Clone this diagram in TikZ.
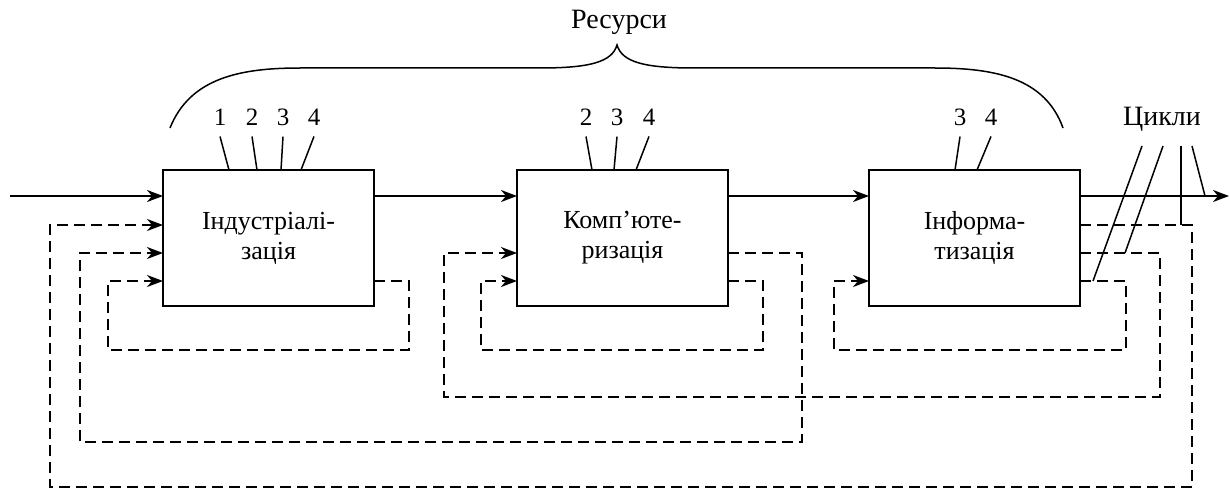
\documentclass[tikz,border=0pt]{standalone}
\usepackage{fontspec}
\setmainfont{Liberation Serif}
\usetikzlibrary{arrows.meta,calc}
\begin{document}
\begin{tikzpicture}[x=1pt,y=-1pt,
 box/.style={draw,line width=2pt,minimum width=211pt,minimum height=136pt,align=center,inner sep=0pt,outer sep=0pt,font=\fontsize{26}{30}\selectfont},
 flow/.style={line width=1.8pt,-{Stealth[length=16pt,width=12pt,inset=5pt]}},
 fb/.style={line width=1.8pt,dash pattern=on 11pt off 6pt},
 fbarr/.style={fb,-{Stealth[length=16pt,width=12pt,inset=5pt]}},
 res/.style={line width=1.5pt},
 num/.style={inner sep=0pt,font=\fontsize{25}{25}\selectfont},
 lbl/.style={inner sep=0pt,font=\fontsize{28}{28}\selectfont},
]
\useasboundingbox (0,0) rectangle (1230,492);

% boxes
\node[box] (b1) at (268.5,238) {Індустріалі-\\зація};
\node[box] (b2) at (622.5,238) {Комп'юте-\\ризація};
\node[box] (b3) at (974.5,238) {Інформа-\\тизація};

% row levels
\coordinate (ra) at (0,196);
\coordinate (rb) at (0,225);
\coordinate (rc) at (0,253);
\coordinate (rd) at (0,281);
\coordinate (start) at (10,196);
\coordinate (end) at (1229,196);

% main flow
\draw[flow] (start) -- (b1.west |- ra);
\draw[flow] (b1.east |- ra) -- (b2.west |- ra);
\draw[flow] (b2.east |- ra) -- (b3.west |- ra);
\draw[flow] (b3.east |- ra) -- (end);

% feedback loops
\draw[fbarr] (b1.east |- rd) -- (409,281) -- (409,350) -- (108,350) -- (108,281) -- (b1.west |- rd);
\draw[fbarr] (b2.east |- rd) -- (763,281) -- (763,350) -- (481,350) -- (481,281) -- (b2.west |- rd);
\draw[fbarr] (b3.east |- rd) -- (1126,281) -- (1126,350) -- (834,350) -- (834,281) -- (b3.west |- rd);
\draw[fbarr] (b2.east |- rc) -- (802,253) -- (802,442) -- (80,442) -- (80,253) -- (b1.west |- rc);
\draw[fbarr] (b3.east |- rc) -- (1160,253) -- (1160,397) -- (444,397) -- (444,253) -- (b2.west |- rc);
\draw[fbarr] (b3.east |- rb) -- (1192,225) -- (1192,487) -- (50,487) -- (50,225) -- (b1.west |- rb);

% resources, box 1
\node[num] (n11) at (220,117) {1};
\node[num] (n12) at (252,117) {2};
\node[num] (n13) at (283,117) {3};
\node[num] (n14) at (314,117) {4};
\draw[res] ([yshift=-11pt]n11.south) -- ($(b1.north west)+(66,0)$);
\draw[res] ([yshift=-11pt]n12.south) -- ($(b1.north west)+(94,0)$);
\draw[res] ([yshift=-11pt]n13.south) -- ($(b1.north west)+(118,0)$);
\draw[res] ([yshift=-11pt]n14.south) -- ($(b1.north west)+(138,0)$);
% box 2
\node[num] (n22) at (586,117) {2};
\node[num] (n23) at (617,117) {3};
\node[num] (n24) at (649,117) {4};
\draw[res] ([yshift=-11pt]n22.south) -- ($(b2.north west)+(75,0)$);
\draw[res] ([yshift=-11pt]n23.south) -- ($(b2.north west)+(97,0)$);
\draw[res] ([yshift=-11pt]n24.south) -- ($(b2.north west)+(119,0)$);
% box 3
\node[num] (n33) at (960,117) {3};
\node[num] (n34) at (991,117) {4};
\draw[res] ([yshift=-11pt]n33.south) -- ($(b3.north west)+(86,0)$);
\draw[res] ([yshift=-11pt]n34.south) -- ($(b3.north west)+(108,0)$);

% brace and label
\node[lbl] (res) at (619,22) {Ресурси};
\draw[res] (170,128) .. controls (190,78) and (240,68) .. (300,68) -- (540,68)
  .. controls (590,68) and (612,62) .. (617,45)
  .. controls (622,62) and (644,68) .. (694,68) -- (935,68)
  .. controls (995,68) and (1045,78) .. (1063,128);

% cycles
\node[lbl] (cyc) at (1162,119) {Цикли};
\coordinate (c1) at (1093,281);
\coordinate (c2) at (1125,253);
\coordinate (c3) at (1181,225);
\coordinate (c4) at (1205,196);
\draw[res] (1142,146) -- (c1);
\draw[res] (1163,146) -- (c2);
\draw[res] (1181,146) -- (c3);
\draw[res] (1192,146) -- (c4);
\end{tikzpicture}
\end{document}
